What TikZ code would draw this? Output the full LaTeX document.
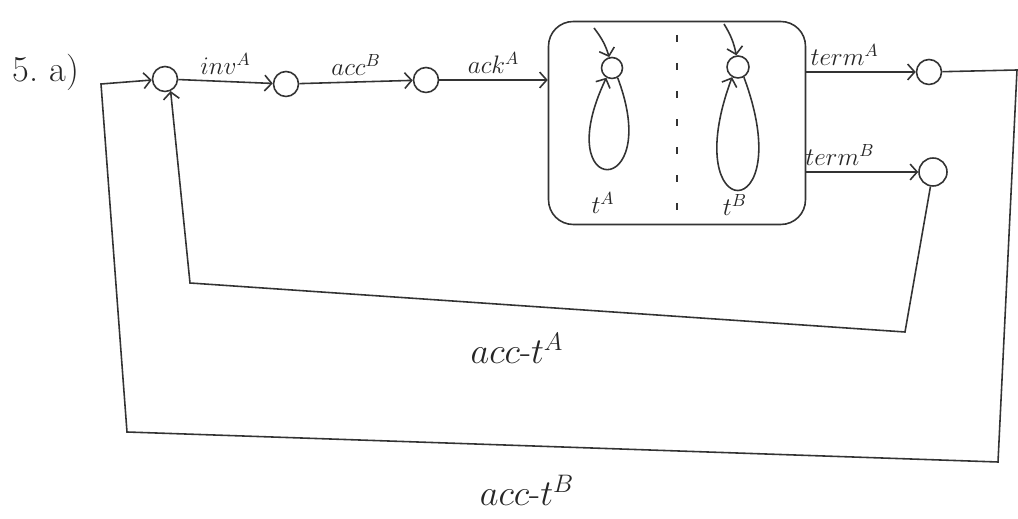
\documentclass[tikz,border=0pt]{standalone}
\usepackage{amsmath}
\usepackage{tikz}
\usetikzlibrary{arrows.meta}

\tikzset{
  state/.style={circle, draw, minimum size=0.5cm, inner sep=0pt},
  lbl/.style={font=\Large},
  biglbl/.style={font=\huge},
}

\begin{document}
\begin{tikzpicture}[x=0.02cm, y=-0.02cm, line width=0.9pt, draw=black!80, text=black!85,
  >={Straight Barb[length=4pt,width=9pt]}]
\useasboundingbox (0,0) rectangle (1018,519);
\node[font=\huge] (title) at (46,72) {5.\ a)};

% main chain of states
\node[state] (s0) at (165,79) {};
\node[state] (s1) at (286,84) {};
\node[state] (s2) at (426,80) {};
\node[draw, rounded corners=14pt, minimum width=5.14cm, minimum height=4.06cm] (box) at (677,123) {};
\node[state] (s3) at (929,72) {};
\node[state, minimum size=0.56cm] (s4) at (933,172) {};

\draw[->] (s0) -- node[lbl, above] {$inv^A$} (s1);
\draw[->] (s1) -- node[lbl, above] {$acc^B$} (s2);
\draw[->] (s2) -- node[lbl, above] {$ack^A$} (s2 -| box.west);
\draw[->] (box.east |- s3) -- node[lbl, above, pos=0.35] {$term^A$} (s3);
\draw[->] (box.east |- s4) -- node[lbl, above, pos=0.3] {$term^B$} (s4);

% the two parts inside the box
\draw[dashed, dash pattern=on 4pt off 12pt] ([yshift=-8pt]box.north) -- ([yshift=8pt]box.south);
\node[state, minimum size=0.42cm] (sA) at (612,68) {};
\node[state, minimum size=0.44cm] (sB) at (738,67) {};
\coordinate (inA) at (594,28);
\coordinate (inB) at (724,24);
\draw[->] (inA) to[bend left=10] (sA);
\draw[->] (inB) to[bend left=10] (sB);
\draw[->] (sA.-60) .. controls (664,200) and (548,200) .. (sA.-120);
\draw[->] (sB.-60) .. controls (800,228) and (676,228) .. (sB.-120);
\node[lbl] (tA) at (603,203) {$t^A$};
\node[lbl] (tB) at (735,205) {$t^B$};

% return edges
\coordinate (a1) at (905,332);
\coordinate (a2) at (190,283);
\draw[->] (s4) -- (a1) -- (a2) -- (s0.-65);
\node[biglbl] (accA) at (517,348) {$acc$-$t^A$};

\coordinate (b1) at (1017,70);
\coordinate (b2) at (998,462);
\coordinate (b3) at (127,432);
\coordinate (b4) at (101,84);
\draw[->] (s3) -- (b1) -- (b2) -- (b3) -- (b4) -- (s0);
\node[biglbl] (accB) at (527,490) {$acc$-$t^B$};
\end{tikzpicture}
\end{document}
